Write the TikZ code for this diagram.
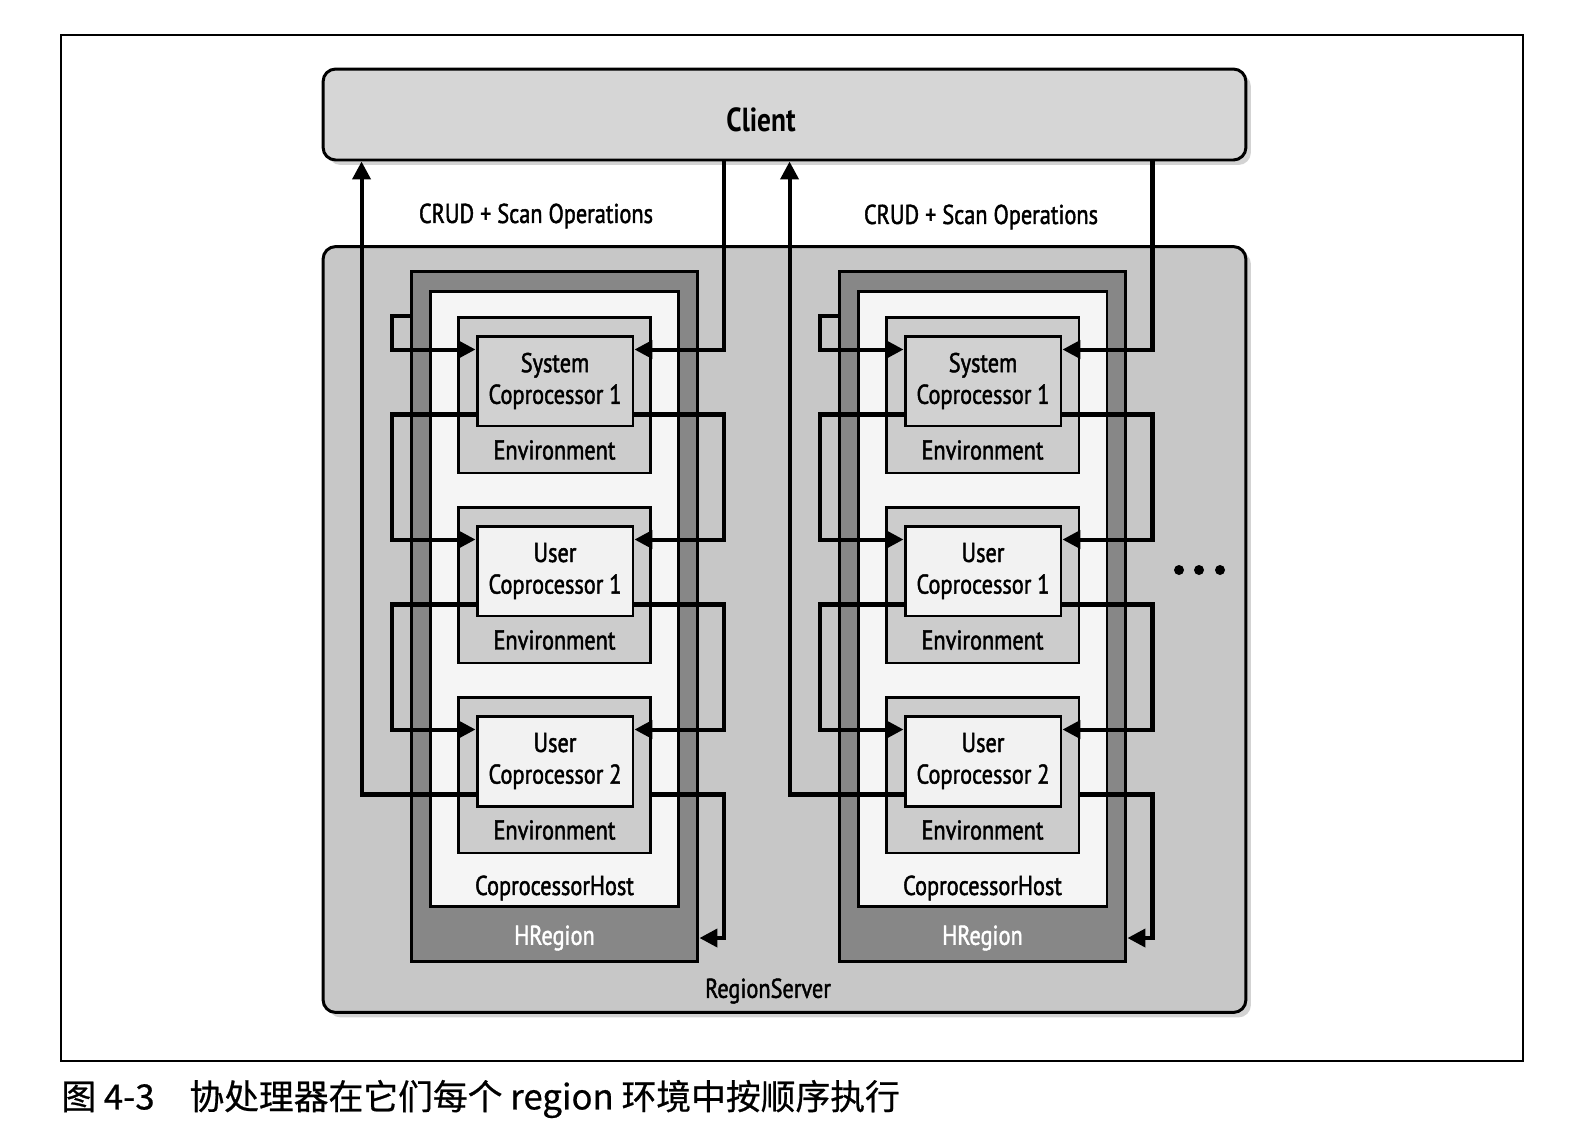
\documentclass[tikz,border=0pt]{standalone}
\usepackage{fontspec}
\setmainfont{PT Sans}[FakeStretch=0.82, UprightFeatures={FakeBold=1.6}]
\newfontfamily\cjk{Noto Sans CJK SC}[FakeBold=0.6]
\usetikzlibrary{positioning,arrows.meta,shadows}

% grey tones of the figure
\definecolor{rsgray}{gray}{0.78}
\definecolor{clientgray}{gray}{0.84}
\definecolor{hreggray}{gray}{0.53}
\definecolor{hostgray}{gray}{0.96}
\definecolor{envgray}{gray}{0.80}
\definecolor{sysgray}{gray}{0.82}
\definecolor{usergray}{gray}{0.95}

\tikzset{
  frame/.style={draw, line width=1.7pt},
  serverbox/.style={frame, rounded corners=0.25cm, drop shadow={shadow xshift=0.1cm, shadow yshift=-0.1cm, opacity=0.35}},
  hregbox/.style={frame, fill=hreggray, minimum width=5.74cm, minimum height=13.82cm},
  hostbox/.style={frame, fill=hostgray, minimum width=4.98cm, minimum height=12.32cm},
  envbox/.style={frame, fill=envgray, minimum width=3.86cm, minimum height=3.12cm},
  cpbox/.style={frame, minimum width=3.12cm, minimum height=1.8cm, align=center, inner sep=0pt, font=\fontsize{15.5}{18}\selectfont},
  lbl/.style={font=\fontsize{15.5}{18}\selectfont, inner sep=0pt},
  flow/.style={line width=2.3pt, -{Triangle[length=0.36cm, width=0.36cm]}},
}

\begin{document}
\begin{tikzpicture}[x=0.02cm, y=-0.02cm]
    \useasboundingbox (0,0) rectangle (1584,1140);

    % Frame round the figure
    \draw[line width=1pt] (61,35) rectangle (1523,1061);

    % RegionServer and Client
    \node[serverbox, fill=rsgray, minimum width=18.46cm, minimum height=15.32cm] (rs) at (784.5,629.5) {};
    \node[serverbox, fill=clientgray, minimum width=18.46cm, minimum height=1.82cm] (client) at (784.5,114.5) {};
    \node[lbl, font=\fontsize{19}{22}\selectfont\bfseries] (clientlbl) at (761,120) {Client};
    \node[lbl] (rslbl) at (768,991) {RegionServer};

    \node[lbl] (cruda) at (536,216) {CRUD + Scan Operations};
    \node[lbl] (crudb) at (981,217) {CRUD + Scan Operations};

    % One HRegion per column
    \foreach \c/\dx in {a/0,b/428} {
        \node[hregbox] (hreg\c) at (554.5+\dx,616.5) {};
        \node[hostbox] (host\c) at (554.5+\dx,599) {};
        \node[envbox] (env1\c) at (554.5+\dx,395) {};
        \node[envbox] (env2\c) at (554.5+\dx,585) {};
        \node[envbox] (env3\c) at (554.5+\dx,775) {};
        \node[cpbox, fill=sysgray] (cp1\c) at (555+\dx,381) {System\\Coprocessor 1};
        \node[cpbox, fill=usergray] (cp2\c) at (555+\dx,571) {User\\Coprocessor 1};
        \node[cpbox, fill=usergray] (cp3\c) at (555+\dx,761) {User\\Coprocessor 2};
        \node[lbl] (envl1\c) at (554.5+\dx,450) {Environment};
        \node[lbl] (envl2\c) at (554.5+\dx,640) {Environment};
        \node[lbl] (envl3\c) at (554.5+\dx,830) {Environment};
        \node[lbl] (hostl\c) at (554.5+\dx,888) {CoprocessorHost};
        \node[lbl, text=white] (hlbl\c) at (554.5+\dx,938) {HRegion};

        \coordinate (lx) at ([xshift=-0.36cm]hreg\c.west);
        \coordinate (rx) at ([xshift=0.5cm]hreg\c.east);
        \coordinate (ux) at ([xshift=-0.96cm]hreg\c.west);

        % Request comes into the first coprocessor
        \draw[flow] (client.south -| rx) |- ([yshift=-0.3cm]cp1\c.north east);
        \draw[flow] (hreg\c.west |- env1\c.north) -- (lx |- env1\c.north) |- ([yshift=-0.3cm]cp1\c.north west);

        % Passed on to the next coprocessor
        \foreach \i/\j in {1/2,2/3} {
            \coordinate (ol) at ([yshift=0.26cm]cp\i\c.south west);
            \coordinate (or) at ([yshift=0.26cm]cp\i\c.south east);
            \draw[flow] (ol) -- (ol -| lx) |- ([yshift=-0.3cm]cp\j\c.north west);
            \draw[flow] (or) -- (or -| rx) |- ([yshift=-0.3cm]cp\j\c.north east);
        }

        % Back to the client and to the region
        \coordinate (ol) at ([yshift=0.26cm]cp3\c.south west);
        \draw[flow] (ol) -- (ol -| ux) -- (ux |- client.south);
        \draw[flow] (ol -| env3\c.east) -- (ol -| rx) |- (hreg\c.east |- hlbl\c);
    }

    % More regions
    \foreach \x in {1179,1199,1220}
        \fill (\x,570) circle[radius=0.1cm];

    % Caption
    \node[anchor=west, inner sep=0pt, font=\cjk\fontsize{19.8}{24}\selectfont] (caption) at (61,1099) {图 4-3\quad 协处理器在它们每个 region 环境中按顺序执行};
\end{tikzpicture}
\end{document}
